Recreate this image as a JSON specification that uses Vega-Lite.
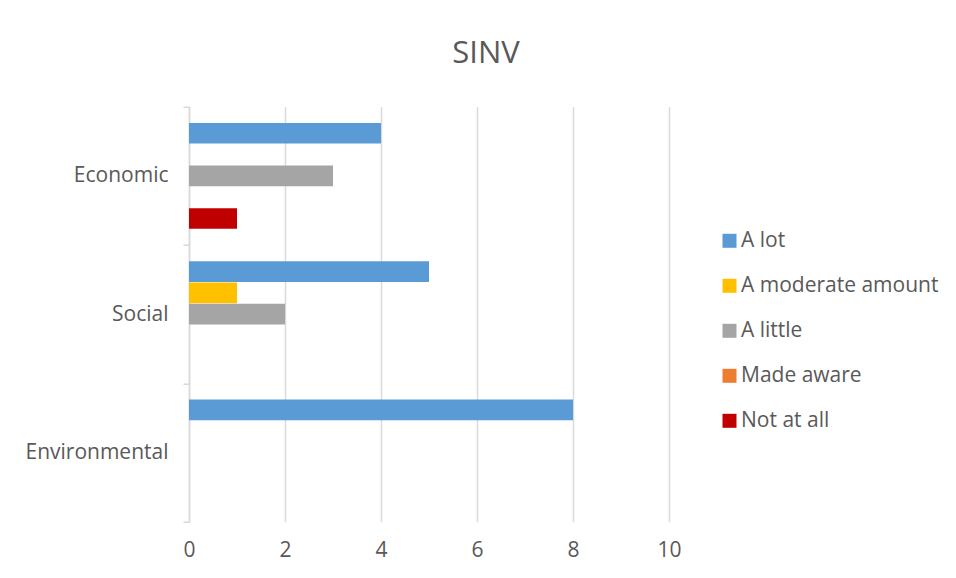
{
  "$schema": "https://vega.github.io/schema/vega-lite/v6.json",
  "autosize": "none",
  "width": 480,
  "height": 415,
  "padding": {"left": 189, "top": 106.7, "right": 287, "bottom": 56.3},
  "background": "white",
  "title": {
    "text": "SINV",
    "anchor": "middle",
    "frame": "group",
    "dx": 57,
    "offset": 2,
    "baseline": "alphabetic",
    "fontSize": 31,
    "font": "Open Sans",
    "fontWeight": "normal",
    "color": "#595959"
  },
  "data": {
    "values": [
      {"category": "Economic", "response": "A lot", "count": 4},
      {"category": "Economic", "response": "A moderate amount", "count": 0},
      {"category": "Economic", "response": "A little", "count": 3},
      {"category": "Economic", "response": "Made aware", "count": 0},
      {"category": "Economic", "response": "Not at all", "count": 1},
      {"category": "Social", "response": "A lot", "count": 5},
      {"category": "Social", "response": "A moderate amount", "count": 1},
      {"category": "Social", "response": "A little", "count": 2},
      {"category": "Social", "response": "Made aware", "count": 0},
      {"category": "Social", "response": "Not at all", "count": 0},
      {"category": "Environmental", "response": "A lot", "count": 8},
      {"category": "Environmental", "response": "A moderate amount", "count": 0},
      {"category": "Environmental", "response": "A little", "count": 0},
      {"category": "Environmental", "response": "Made aware", "count": 0},
      {"category": "Environmental", "response": "Not at all", "count": 0}
    ]
  },
  "mark": {"type": "bar", "cornerRadius": 0},
  "encoding": {
    "y": {
      "field": "category",
      "type": "nominal",
      "sort": ["Economic", "Social", "Environmental"],
      "scale": {"paddingInner": 0, "paddingOuter": 0},
      "axis": {
        "title": null,
        "tickBand": "extent",
        "domainColor": "#D9D9D9",
        "domainWidth": 1.5,
        "tickColor": "#D9D9D9",
        "tickWidth": 1.5,
        "tickSize": 6,
        "labelPadding": 15,
        "labelFont": "Open Sans",
        "labelFontSize": 21,
        "labelColor": "#595959",
        "grid": false
      }
    },
    "yOffset": {
      "field": "response",
      "type": "nominal",
      "sort": ["A lot", "A moderate amount", "A little", "Made aware", "Not at all"],
      "scale": {"domain": ["A lot", "A moderate amount", "A little", "Made aware", "Not at all"], "paddingInner": 0.03, "paddingOuter": 0.76}
    },
    "x": {
      "field": "count",
      "type": "quantitative",
      "scale": {"domain": [0, 10], "nice": false},
      "axis": {
        "title": null,
        "values": [0, 2, 4, 6, 8, 10],
        "domain": false,
        "ticks": false,
        "labelFlush": false,
        "labelPadding": 18,
        "labelFont": "Open Sans",
        "labelFontSize": 21,
        "labelColor": "#595959",
        "grid": true,
        "gridColor": "#D9D9D9",
        "gridWidth": 1.5
      }
    },
    "color": {
      "field": "response",
      "type": "nominal",
      "scale": {
        "domain": ["A lot", "A moderate amount", "A little", "Made aware", "Not at all"],
        "range": ["#5B9BD5", "#FFC000", "#A5A5A5", "#ED7D31", "#C00000"]
      },
      "legend": {
        "title": null,
        "orient": "none",
        "legendX": 530,
        "legendY": 123.6,
        "padding": 0,
        "symbolType": "square",
        "symbolSize": 196,
        "symbolStrokeWidth": 0,
        "labelOffset": 1,
        "labelFont": "Open Sans",
        "labelFontSize": 21,
        "labelColor": "#595959",
        "rowPadding": 23,
        "labelLimit": 400
      }
    }
  },
  "config": {
    "view": {"stroke": null}
  }
}
